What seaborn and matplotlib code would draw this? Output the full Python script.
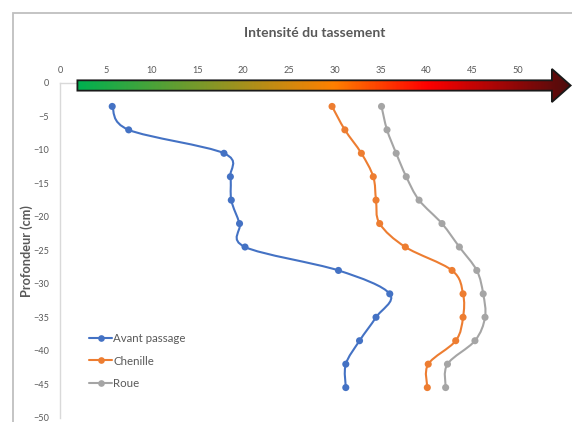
import numpy as np
import pandas as pd
import matplotlib
matplotlib.use("Agg")
import matplotlib.pyplot as plt
import seaborn as sns
from matplotlib.path import Path
from matplotlib.patches import PathPatch, Polygon, Rectangle
from matplotlib.colors import LinearSegmentedColormap
from matplotlib.lines import Line2D

# --- data ---
depths = [-3.5, -7, -10.5, -14, -17.5, -21, -24.5, -28, -31.5, -35, -38.5, -42, -45.5]
avant_passage = [5.7, 7.5, 17.9, 18.6, 18.7, 19.6, 20.2, 30.4, 36.0, 34.5, 32.7, 31.2, 31.2]
chenille = [29.7, 31.1, 32.9, 34.2, 34.5, 34.9, 37.7, 42.8, 44.0, 44.0, 43.2, 40.2, 40.1]
roue = [35.1, 35.7, 36.7, 37.8, 39.2, 41.7, 43.6, 45.5, 46.2, 46.4, 45.3, 42.3, 42.1]

series_names = ["Avant passage", "Chenille", "Roue"]
series_colors = ["#4472C4", "#ED7D31", "#A5A5A5"]
x_ticks = [0, 5, 10, 15, 20, 25, 30, 35, 40, 45, 50]
y_ticks = [0, -5, -10, -15, -20, -25, -30, -35, -40, -45, -50]

TEXT_GREY = "#595959"


def smooth_path(xs, ys):
    """Excel-like smoothed line: cubic Bezier through every point."""
    pts = np.column_stack([xs, ys]).astype(float)
    p = np.vstack([pts[0], pts, pts[-1]])
    verts = [pts[0]]
    codes = [Path.MOVETO]
    for i in range(1, len(p) - 2):
        c1 = p[i] + (p[i + 1] - p[i - 1]) / 6
        c2 = p[i + 1] - (p[i + 2] - p[i]) / 6
        verts += [c1, c2, p[i + 1]]
        codes += [Path.CURVE4] * 3
    return Path(verts, codes)


df = pd.DataFrame({
    "Profondeur": depths * 3,
    "Intensite": avant_passage + chenille + roue,
    "Serie": [n for n in series_names for _ in depths],
})

sns.set_style("white")
plt.rcParams["font.family"] = ["Lato", "DejaVu Sans"]

fig = plt.figure(figsize=(5.72, 4.22), dpi=100)
ax = fig.add_axes([60 / 572, 1 - 417.7 / 422, (563.8 - 60) / 572, (417.7 - 83) / 422])

# smoothed lines
for name, col, vals in zip(series_names, series_colors, [avant_passage, chenille, roue]):
    ax.add_patch(PathPatch(smooth_path(vals, depths), fill=False, ec=col, lw=1.5, zorder=2))

sns.scatterplot(data=df, x="Intensite", y="Profondeur", hue="Serie",
                palette=series_colors, hue_order=series_names, s=26,
                linewidth=0, legend=False, ax=ax, zorder=3)

ax.set_xlim(0, 55)
ax.set_ylim(-50, 0)
ax.set_xticks(x_ticks)
ax.set_yticks(y_ticks)
ax.set_xlabel("")
ax.set_ylabel("")
ax.xaxis.tick_top()
ax.tick_params(axis="x", length=0, pad=6, labelsize=6.6, labelcolor=TEXT_GREY)
ax.tick_params(axis="y", length=0, pad=8, labelsize=6.6, labelcolor=TEXT_GREY)
for side in ["right", "bottom"]:
    ax.spines[side].set_visible(False)
for side in ["left", "top"]:
    ax.spines[side].set_color("#D9D9D9")
    ax.spines[side].set_linewidth(1)

# gradient arrow along the top axis
x0, xh, xt = 1.9, 53.7, 55.75
yc = -0.37
body, head_top, head_bot = 0.77, 2.1, -2.85
arrow_pts = [(x0, yc + body), (xh, yc + body), (xh, head_top), (xt, yc),
             (xh, head_bot), (xh, yc - body), (x0, yc - body)]
arrow = Polygon(arrow_pts, closed=True, fill=False, ec="#1a1a1a", lw=1.3,
                clip_on=False, zorder=6)
ax.add_patch(arrow)
cmap = LinearSegmentedColormap.from_list(
    "tassement", [(0, "#00B050"), (0.52, "#FF8000"), (0.71, "#FF0000"), (1, "#4D0C0C")])
grad = np.linspace(0, 1, 400).reshape(1, -1)
im = ax.imshow(grad, extent=[x0, xt, head_bot, head_top], aspect="auto",
               cmap=cmap, zorder=5, interpolation="bilinear")
im.set_clip_path(arrow)
im.set_clip_box(fig.bbox)
ax.set_xlim(0, 55)
ax.set_ylim(-50, 0)

# legend
handles = [Line2D([0], [0], color=c, lw=1.5, marker="o", markersize=4.8,
                  markeredgewidth=0) for c in series_colors]
leg = ax.legend(handles, series_names, loc="upper left",
                bbox_to_anchor=(89 / 572, 1 - 333 / 422), bbox_transform=fig.transFigure,
                frameon=False, fontsize=8.3, handlelength=2.0, handletextpad=0.1,
                labelspacing=1.0, borderpad=0, borderaxespad=0)
for t in leg.get_texts():
    t.set_color(TEXT_GREY)

# titles
fig.text(315 / 572, 1 - 33 / 422, "Intensité du tassement", ha="center", va="center",
         fontsize=10, fontweight="bold", color=TEXT_GREY)
fig.text(27 / 572, 1 - 251 / 422, "Profondeur (cm)", ha="center", va="center",
         rotation=90, fontsize=9.2, fontweight="bold", color=TEXT_GREY)

# chart area border (cropped on the right and bottom)
fig.patches.append(Rectangle((13 / 572, -0.1), 1.0, 1 - 13 / 422 + 0.1,
                             transform=fig.transFigure, fill=False,
                             ec="#BFBFBF", lw=1.3))

fig.savefig("out.png", dpi=100)
